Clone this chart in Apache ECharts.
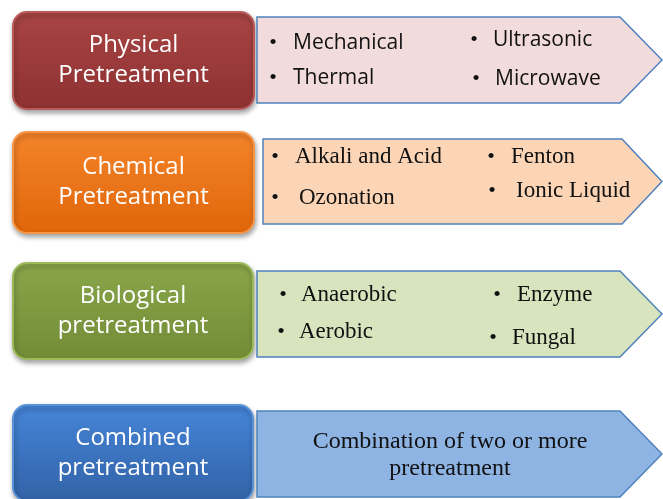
<!DOCTYPE html>
<html><head><meta charset="utf-8">
<script src="https://cdn.jsdelivr.net/npm/echarts@6/dist/echarts.min.js"></script>
<style>html,body{margin:0;padding:0;background:#fff}#c{width:663px;height:499px}</style>
</head><body><div id="c"></div>
<script>
// ---- content ----
const categories = ['Physical\nPretreatment', 'Chemical\nPretreatment', 'Biological\npretreatment', 'Combined\npretreatment'];
const physicalItems = ['Mechanical', 'Thermal', 'Ultrasonic', 'Microwave'];
const chemicalItems = ['Alkali and Acid', 'Ozonation', 'Fenton', 'Ionic Liquid'];
const biologicalItems = ['Anaerobic', 'Aerobic', 'Enzyme', 'Fungal'];
const combinedItems = ['Combination of two or more\npretreatment'];

// ---- layout / style ----
const rows = [
  {box:[13,12,241,97], arrow:[257,17,620,662,103], colors:['#A84444','#8E3131','#B85A58'], fill:'#F2DCDB', font:'"Open Sans", sans-serif', size:21,
   items: physicalItems, pos:[[273,293,43],[273,293,78],[474,493,40],[476,495,79]]},
  {box:[13,132,241,101], arrow:[263,139,622,662,224], colors:['#F4842A','#E0660A','#F79646'], fill:'#FBD5B5', font:'"Liberation Serif", serif', size:23,
   items: chemicalItems, pos:[[275,295,157],[275,299,198],[491,511,157],[492,516,191]]},
  {box:[13,263,240,96], arrow:[257,271,620,662,357], colors:['#89A64A','#728C36','#9BBB59'], fill:'#D7E4BD', font:'"Liberation Serif", serif', size:23,
   items: biologicalItems, pos:[[283,301,295],[281,299,332],[497,517,295],[493,512,338]]},
  {box:[13,405,240,96], arrow:[257,411,620,662,497], colors:['#4585D8','#3262A6','#5A92D8'], fill:'#8EB4E3', font:'"Liberation Serif", serif', size:24,
   items: combinedItems, pos:[[null,450,455]]}
];

const elements = [];
rows.forEach((r, i) => {
  const [bx, by, bw, bh] = r.box;
  elements.push({
    type:'rect', shape:{x:bx, y:by, width:bw, height:bh, r:14},
    style:{
      fill:{type:'linear', x:0, y:0, x2:0, y2:1, colorStops:[{offset:0,color:r.colors[0]},{offset:1,color:r.colors[1]}]},
      stroke:r.colors[2], lineWidth:2,
      shadowBlur:5, shadowOffsetX:1, shadowOffsetY:3, shadowColor:'rgba(0,0,0,0.35)'
    }
  });
  elements.push({
    type:'text', x: bx + bw/2, y: by + bh/2,
    style:{text:categories[i], fill:'#fff', font:'24px "Open Sans", sans-serif', align:'center', verticalAlign:'middle', lineHeight:30}
  });
  const [ax, ay, nx, tx, ay2] = r.arrow;
  elements.push({
    type:'polygon', shape:{points:[[ax,ay],[nx,ay],[tx,(ay+ay2)/2],[nx,ay2],[ax,ay2]]},
    style:{fill:r.fill, stroke:'#4F81BD', lineWidth:1.5}
  });
  r.items.forEach((t, j) => {
    const [bulX, txtX, ty] = r.pos[j];
    if (bulX === null) {
      elements.push({type:'text', x:txtX, y:ty,
        style:{text:t, fill:'#111', font:r.size + 'px ' + r.font, align:'center', verticalAlign:'middle', lineHeight:27}});
    } else {
      elements.push({type:'text', x:bulX, y:ty,
        style:{text:'•', fill:'#111', font:'19px "Liberation Sans", sans-serif', align:'center', verticalAlign:'middle'}});
      elements.push({type:'text', x:txtX, y:ty,
        style:{text:t, fill:'#111', font:r.size + 'px ' + r.font, align:'left', verticalAlign:'middle'}});
    }
  });
});

const chart = echarts.init(document.getElementById('c'), null, {renderer:'canvas'});
chart.setOption({animation:false, backgroundColor:'#fff', graphic:{elements}});
</script></body></html>
